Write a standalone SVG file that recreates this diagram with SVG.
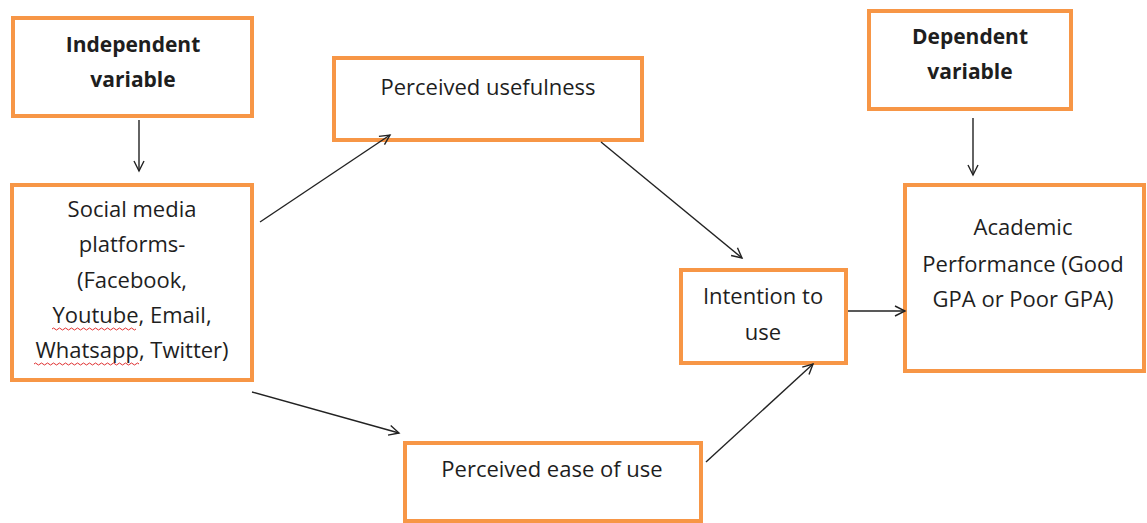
<svg xmlns="http://www.w3.org/2000/svg" width="1147" height="523" viewBox="0 0 1147 523">
<style>
.box{fill:#fff;stroke:#F79646;stroke-width:4}
.t{font-family:"Open Sans","Liberation Sans",sans-serif;font-size:22px;fill:#1e1e1e;text-anchor:middle}
.b{font-weight:bold;font-size:21px}
.c{stroke:#222;stroke-width:1.4;fill:none;marker-end:url(#ah)}
.sq{stroke:#e03030;stroke-width:1;fill:none}
</style>
<defs>
<marker id="ah" markerUnits="userSpaceOnUse" markerWidth="14" markerHeight="14" refX="11" refY="6" orient="auto">
<path d="M1,1 L11,6 L1,11" fill="none" stroke="#222" stroke-width="1.4"/>
</marker>
</defs>
<rect width="1147" height="523" fill="#fff"/>
<g id="independent">
<rect class="box" x="13" y="18" width="239" height="98"/>
<text class="t b" x="133" y="52">Independent</text>
<text class="t b" x="133" y="87">variable</text>
</g>
<g id="social">
<rect class="box" x="12" y="185" width="240" height="195"/>
<text class="t" x="132" y="217">Social media</text>
<text class="t" x="132" y="252">platforms-</text>
<text class="t" x="132" y="288">(Facebook,</text>
<text class="t" x="132" y="323">Youtube, Email,</text>
<text class="t" x="132" y="358">Whatsapp, Twitter)</text>
<path class="sq" d="M52,329 q1.5,-2 3,0 t3,0 t3,0 t3,0 t3,0 t3,0 t3,0 t3,0 t3,0 t3,0 t3,0 t3,0 t3,0 t3,0 t3,0 t3,0 t3,0 t3,0 t3,0 t3,0 t3,0 t3,0 t3,0 t3,0 t3,0 t3,0 t3,0 t3,0"/>
<path class="sq" d="M34,364 q1.5,-2 3,0 t3,0 t3,0 t3,0 t3,0 t3,0 t3,0 t3,0 t3,0 t3,0 t3,0 t3,0 t3,0 t3,0 t3,0 t3,0 t3,0 t3,0 t3,0 t3,0 t3,0 t3,0 t3,0 t3,0 t3,0 t3,0 t3,0 t3,0 t3,0 t3,0 t3,0 t3,0 t3,0 t3,0 t3,0"/>
</g>
<g id="usefulness">
<rect class="box" x="334" y="58" width="308" height="82"/>
<text class="t" x="488" y="95">Perceived usefulness</text>
</g>
<g id="ease">
<rect class="box" x="405" y="443" width="296" height="78"/>
<text class="t" x="552" y="477">Perceived ease of use</text>
</g>
<g id="intention">
<rect class="box" x="681" y="270" width="165" height="93"/>
<text class="t" x="763" y="304">Intention to</text>
<text class="t" x="763" y="340">use</text>
</g>
<g id="dependent">
<rect class="box" x="869" y="11" width="202" height="98"/>
<text class="t b" x="970" y="44">Dependent</text>
<text class="t b" x="970" y="79">variable</text>
</g>
<g id="academic">
<rect class="box" x="905" y="185" width="239" height="186"/>
<text class="t" x="1023" y="235">Academic</text>
<text class="t" x="1023" y="272">Performance (Good</text>
<text class="t" x="1023" y="307">GPA or Poor GPA)</text>
</g>
<g id="connectors">
<line class="c" x1="139" y1="120" x2="139" y2="171"/>
<line class="c" x1="973" y1="118" x2="973" y2="175"/>
<line class="c" x1="260" y1="222" x2="390" y2="135"/>
<line class="c" x1="601" y1="142" x2="742" y2="258"/>
<line class="c" x1="252" y1="392" x2="399" y2="433"/>
<line class="c" x1="706" y1="462" x2="813" y2="364"/>
<line class="c" x1="848" y1="311" x2="905" y2="311"/>
</g>
</svg>
